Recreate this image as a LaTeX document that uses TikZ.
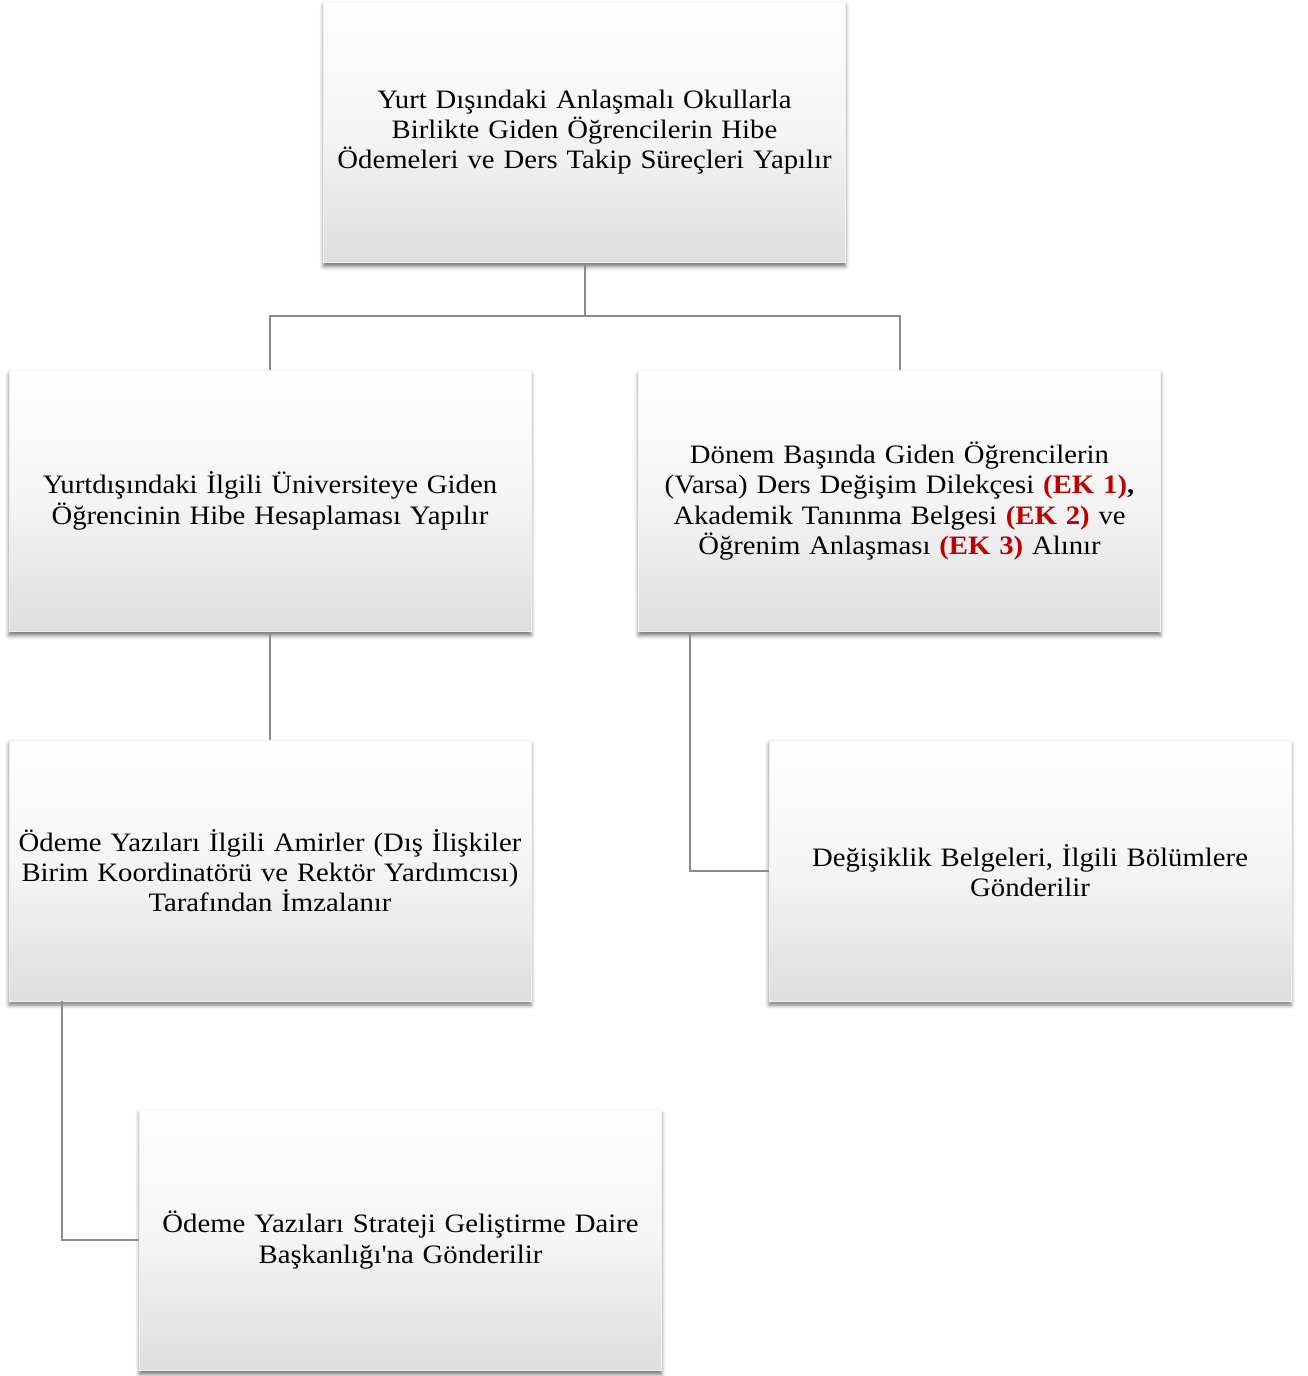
\documentclass[tikz,border=0pt]{standalone}
\usepackage{fontspec}
\setmainfont{Liberation Serif}[FakeStretch=1.08]
\newfontfamily\plainserif{Liberation Serif}[FakeStretch=1.08]
\usetikzlibrary{shadows.blur}
\definecolor{ekred}{HTML}{C00000}
\definecolor{conn}{HTML}{8C8C8C}
\newcommand{\ek}[1]{\textcolor{ekred}{\bfseries #1}}
\newcommand{\sq}{{\plainserif'}}
\begin{document}
\begin{tikzpicture}[x=1pt,y=-1pt,
  boxnode/.style={rectangle, minimum width=522pt, minimum height=261pt,
    inner sep=2pt, align=center, text width=518pt,
    font=\fontsize{26.6}{30.3}\selectfont,
    top color=white, bottom color=black!13, middle color=white!96!black,
    draw=black!6, line width=0.5pt,
    blur shadow={shadow xshift=0pt, shadow yshift=-4pt, shadow blur radius=4pt, shadow opacity=55}},
  conline/.style={draw=conn, line width=2pt}]
\useasboundingbox (0,0) rectangle (1307,1376);
\node[boxnode] (top) at (584.5,132) {Yurt Dışındaki Anlaşmalı Okullarla\\Birlikte Giden Öğrencilerin Hibe\\Ödemeleri ve Ders Takip Süreçleri Yapılır};
\node[boxnode] (l2) at (270,501) {Yurtdışındaki İlgili Üniversiteye Giden\\Öğrencinin Hibe Hesaplaması Yapılır};
\node[boxnode] (r2) at (899.5,501) {Dönem Başında Giden Öğrencilerin\\(Varsa) Ders Değişim Dilekçesi \ek{(EK 1)}\textbf{,}\\Akademik Tanınma Belgesi \ek{(EK 2)} ve\\Öğrenim Anlaşması \ek{(EK 3)} Alınır};
\node[boxnode] (l3) at (270,870.5) {Ödeme Yazıları İlgili Amirler (Dış İlişkiler\\Birim Koordinatörü ve Rektör Yardımcısı)\\Tarafından İmzalanır};
\node[boxnode] (r3) at (1030,870.5) {Değişiklik Belgeleri, İlgili Bölümlere\\Gönderilir};
\node[boxnode] (b) at (400.5,1240) {Ödeme Yazıları Strateji Geliştirme Daire\\Başkanlığı\sq na Gönderilir};
\coordinate (jt) at (584.5,316);
\draw[conline] (top.south) -- (jt) -| (l2.north);
\draw[conline] (jt) -| (r2.north);
\draw[conline] (l2.south) -- (l3.north);
\draw[conline] (r2.south west) ++(52,0) |- (r3.west);
\draw[conline] (l3.south west) ++(53,0) |- (b.west);
\end{tikzpicture}
\end{document}
